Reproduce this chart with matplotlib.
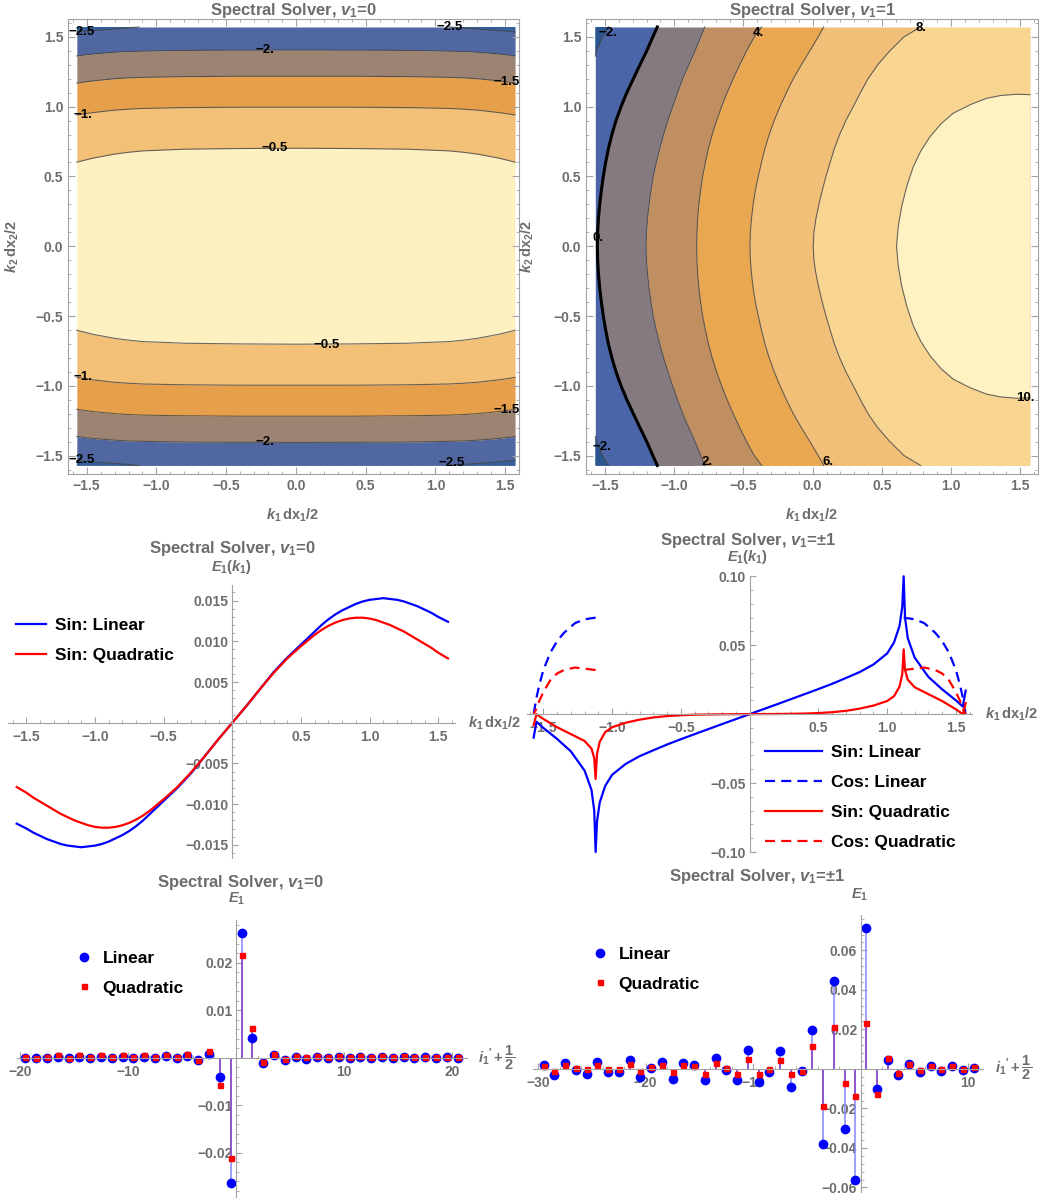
import numpy as np
import matplotlib
matplotlib.use('Agg')
import matplotlib.pyplot as plt
from matplotlib.ticker import MultipleLocator

plt.rcParams['font.family'] = ['Liberation Sans', 'DejaVu Sans']
plt.rcParams['font.weight'] = 'bold'
plt.rcParams['mathtext.fontset'] = 'custom'
plt.rcParams['mathtext.rm'] = 'Liberation Sans:bold'
plt.rcParams['mathtext.it'] = 'Liberation Sans:italic:bold'
plt.rcParams['mathtext.bf'] = 'Liberation Sans:bold'

W, H = 1045, 1200
GRAY = '#6d6d6d'
AXC = '#a3a3a3'
EDGE = 1.5708

# ---------------- top left contour (v1 = 0): level lines, k2 read at k1 (right half, symmetric)
tl_k1_half = [0.0, 0.4, 0.8, 1.1, 1.2, 1.3, 1.45, 1.52, 1.5708]
tl_m05_half = [0.702, 0.700, 0.695, 0.683, 0.673, 0.660, 0.632, 0.615, 0.602]
tl_m10_half = [0.996, 0.996, 0.993, 0.987, 0.982, 0.975, 0.958, 0.948, 0.940]
tl_m15_half = [1.218, 1.218, 1.215, 1.210, 1.206, 1.200, 1.185, 1.176, 1.168]
tl_m20_half = [1.406, 1.405, 1.403, 1.398, 1.395, 1.390, 1.378, 1.370, 1.363]
tl_m25_left_x = [-1.5708, -1.45, -1.3, -1.125]
tl_m25_left_y = [1.535, 1.545, 1.556, 1.5708]
tl_m25_right_x = [1.1, 1.3, 1.45, 1.5708]
tl_m25_right_y = [1.5708, 1.556, 1.545, 1.535]
tl_labels = [(-1.536, 1.533, '−2.5'), (1.10, 1.569, '−2.5'), (-0.22, 1.406, '−2.'),
             (1.51, 1.18, '−1.5'), (-1.527, 0.94, '−1.'), (-0.15, 0.706, '−0.5'),
             (0.22, -0.707, '−0.5'), (-1.525, -0.94, '−1.'), (1.51, -1.173, '−1.5'),
             (-0.22, -1.40, '−2.'), (-1.536, -1.53, '−2.5'), (1.116, -1.555, '−2.5')]

# ---------------- top right contour (v1 = 1): level lines, k1 read at k2 (upper half, symmetric)
tr_k2_half = [0.0, 0.1, 0.2, 0.3, 0.4, 0.5, 0.6, 0.7, 0.8, 0.9, 1.0, 1.1, 1.2, 1.3, 1.4, 1.5, 1.5708]
tr_c0_half = [-1.556, -1.554, -1.548, -1.539, -1.527, -1.513, -1.496, -1.476, -1.451, -1.421,
              -1.385, -1.343, -1.296, -1.248, -1.199, -1.155, -1.123]
tr_c2_half = [-1.204, -1.201, -1.193, -1.182, -1.168, -1.152, -1.130, -1.105, -1.077, -1.046,
              -1.012, -0.976, -0.939, -0.895, -0.850, -0.808, -0.780]
tr_c4_half = [-0.838, -0.836, -0.831, -0.822, -0.810, -0.795, -0.775, -0.753, -0.726, -0.694,
              -0.658, -0.618, -0.574, -0.527, -0.477, -0.422, -0.368]
tr_c6_half = [-0.453, -0.450, -0.442, -0.430, -0.414, -0.393, -0.370, -0.345, -0.314, -0.278,
              -0.236, -0.190, -0.140, -0.082, -0.020, 0.040, 0.080]
tr_c8_half = [0.004, 0.009, 0.024, 0.045, 0.069, 0.096, 0.126, 0.157, 0.195, 0.240,
              0.293, 0.345, 0.400, 0.470, 0.558, 0.660, 0.780]
# level 10: closed arc against the right edge, from k2 = 0 up to the edge
tr_c10_x_half = [0.606, 0.618, 0.643, 0.680, 0.727, 0.780, 0.848, 0.930, 1.016, 1.140,
                 1.257, 1.360, 1.474, 1.5708]
tr_c10_y_half = [0.0, 0.14, 0.284, 0.43, 0.570, 0.680, 0.785, 0.880, 0.953, 1.015,
                 1.060, 1.080, 1.089, 1.086]
tr_m2_x = [-1.5708, -1.561, -1.518, -1.477]
tr_m2_y = [1.363, 1.4, 1.5, 1.5708]
tr_labels = [(-1.477, 1.526, '−2.'), (-0.393, 1.526, '4.'), (0.787, 1.562, '8.'),
             (-1.549, 0.057, '0.'), (-1.525, -1.435, '−2.'), (-0.766, -1.543, '2.'),
             (0.113, -1.543, '6.'), (1.534, -1.089, '10.')]

# ---------------- middle left E1(k1), v1 = 0 (right half; curves are odd in k1)
ml_k_half = [0.0, 0.1, 0.2, 0.3, 0.4, 0.5, 0.6, 0.65, 0.7, 0.75, 0.8, 0.85, 0.9, 0.95, 1.0,
             1.05, 1.1, 1.15, 1.2, 1.25, 1.3, 1.35, 1.4, 1.45, 1.5, 1.5708]
ml_lin_half = [0.0, 0.0020, 0.0041, 0.0062, 0.0080, 0.0096, 0.0112, 0.0120, 0.0127, 0.0133,
               0.0138, 0.0142, 0.0146, 0.0149, 0.0151, 0.0152, 0.0153, 0.0152, 0.0151, 0.0149,
               0.0146, 0.0143, 0.0139, 0.0135, 0.0130, 0.0124]
ml_quad_half = [0.0, 0.0020, 0.0041, 0.0061, 0.0079, 0.0094, 0.0108, 0.0114, 0.0119, 0.0123,
                0.0126, 0.0128, 0.0129, 0.0129, 0.0128, 0.0126, 0.0123, 0.0120, 0.0116, 0.0112,
                0.0107, 0.0102, 0.0097, 0.0092, 0.0086, 0.0079]

# ---------------- middle right E1(k1), v1 = +-1 (sin parts odd, cos parts even)
mr_k_half = [0.0, 0.2, 0.4, 0.5, 0.6, 0.7, 0.8, 0.9, 1.0, 1.05, 1.09, 1.11, 1.12, 1.13, 1.15,
             1.2, 1.25, 1.3, 1.4, 1.5, 1.55, 1.5708]
mr_sin_lin_half = [0.0, 0.0072, 0.0145, 0.0182, 0.0220, 0.0262, 0.0305, 0.0360, 0.0440, 0.0520,
                   0.0640, 0.0780, 0.1000, 0.0700, 0.0550, 0.0410, 0.0340, 0.0270, 0.0180,
                   0.0100, 0.0055, 0.0170]
mr_sin_quad_half = [0.0, 0.0001, 0.0004, 0.0008, 0.0014, 0.0024, 0.0040, 0.0062, 0.0095, 0.0130,
                    0.0200, 0.0290, 0.0470, 0.0320, 0.0250, 0.0195, 0.0170, 0.0145, 0.0095,
                    0.0035, 0.0, 0.0080]
mr_kc = [1.12, 1.2, 1.27, 1.35, 1.4, 1.45, 1.5, 1.53, 1.55, 1.5708]
mr_cos_lin = [0.0700, 0.0688, 0.0660, 0.0590, 0.0530, 0.0445, 0.0320, 0.0210, 0.0120, 0.0]
mr_cos_quad = [0.0320, 0.0330, 0.0338, 0.0320, 0.0295, 0.0245, 0.0160, 0.0095, 0.0040, 0.0]

# ---------------- bottom left, E1 at i1' + 1/2, v1 = 0
bl_i = np.arange(-19.5, 20.6, 1.0)
bl_lin = [0.0000, -0.0001, 0.0000, 0.0001, -0.0001, 0.0002, -0.0001, 0.0002, -0.0001, 0.0002,
          -0.0001, 0.0002, -0.0001, 0.0003, -0.0001, 0.0004, -0.0005, 0.0009, -0.0041, -0.0263,
          0.0264, 0.0041, -0.0010, 0.0006, -0.0004, 0.0002, -0.0002, 0.0002, -0.0001, 0.0002,
          -0.0001, 0.0002, -0.0001, 0.0002, -0.0001, 0.0002, -0.0001, 0.0001, -0.0001, 0.0001,
          0.0000]
bl_quad = [0.0001, 0.0000, 0.0002, 0.0005, 0.0000, 0.0005, 0.0001, 0.0005, 0.0001, 0.0005,
           0.0001, 0.0005, 0.0001, 0.0006, 0.0002, 0.0008, -0.0004, 0.0015, -0.0058, -0.0211,
           0.0216, 0.0063, -0.0008, 0.0008, -0.0002, 0.0004, 0.0001, 0.0004, 0.0001, 0.0004,
           0.0001, 0.0004, 0.0001, 0.0004, 0.0001, 0.0004, 0.0001, 0.0002, 0.0001, 0.0002,
           0.0001]

# ---------------- bottom right, E1 at i1' + 1/2, v1 = +-1
br_i = np.arange(-29.5, 10.6, 1.0)
br_lin = [0.0019, -0.0032, 0.0030, -0.0007, -0.0024, 0.0035, -0.0017, -0.0017, 0.0044, -0.0041,
          0.0007, 0.0035, -0.0049, 0.0030, 0.0019, -0.0057, 0.0056, -0.0007, -0.0057, 0.0095,
          -0.0066, -0.0015, 0.0089, -0.0091, -0.0012, 0.0199, -0.0381, 0.0444, -0.0302, -0.0560,
          0.0711, -0.0101, 0.0047, -0.0032, 0.0024, -0.0017, 0.0015, -0.0012, 0.0014, -0.0007,
          0.0007]
br_quad = [0.0017, -0.0012, 0.0020, 0.0007, -0.0002, 0.0020, -0.0002, -0.0002, 0.0024, -0.0012,
           0.0010, 0.0020, -0.0017, 0.0020, 0.0015, -0.0024, 0.0030, 0.0007, -0.0024, 0.0049,
           -0.0025, -0.0002, 0.0044, -0.0027, -0.0012, 0.0115, -0.0189, 0.0213, -0.0071, -0.0138,
           0.0230, -0.0125, 0.0056, -0.0019, 0.0027, -0.0007, 0.0015, 0.0002, 0.0015, -0.0002,
           0.0010]


def mirror_even(xh, yh):
    # full curve from a half, for curves symmetric about 0
    x = [-v for v in xh[::-1]] + list(xh[1:])
    y = list(yh[::-1]) + list(yh[1:])
    return np.array(x), np.array(y)


def mirror_odd(xh, yh):
    x = [-v for v in xh[::-1]] + list(xh[1:])
    y = [-v for v in yh[::-1]] + list(yh[1:])
    return np.array(x), np.array(y)


fig = plt.figure(figsize=(W / 100, H / 100), dpi=100)


def px_axes(l, t, r, b):
    return fig.add_axes([l / W, 1 - b / H, (r - l) / W, (b - t) / H])


def ftext(x, y, s, **kw):
    kw.setdefault('color', GRAY)
    kw.setdefault('ha', 'center')
    kw.setdefault('va', 'center')
    fig.text(x / W, 1 - y / H, s, **kw)


def frame_style(ax):
    for s in ax.spines.values():
        s.set_color(AXC)
    for a in (ax.xaxis, ax.yaxis):
        a.set_major_locator(MultipleLocator(0.5))
        a.set_minor_locator(MultipleLocator(0.1))
    ax.tick_params(which='both', direction='in', top=True, right=True,
                   colors=AXC, labelcolor=GRAY, labelsize=10)
    ax.tick_params(which='major', length=5)
    ax.tick_params(which='minor', length=2.5)


def cross_axes(l, t, r, b, xlim, ylim):
    ax = px_axes(l, t, r, b)
    ax.set_xlim(*xlim)
    ax.set_ylim(*ylim)
    ax.patch.set_visible(False)
    for s in ('top', 'right'):
        ax.spines[s].set_visible(False)
    for s in ('left', 'bottom'):
        ax.spines[s].set_position(('data', 0))
        ax.spines[s].set_color(AXC)
    ax.tick_params(which='both', direction='in', colors=AXC, labelcolor=GRAY, labelsize=10)
    ax.tick_params(which='major', length=4)
    ax.tick_params(which='minor', length=2)
    ax.tick_params(axis='x', pad=5)
    ax.tick_params(axis='y', pad=2.5)
    return ax


def lab(vals, fmt):
    return [(fmt % v).replace('-', '−') for v in vals]


LINE = dict(color='#454545', lw=0.8, alpha=0.8)
LEG = dict(bbox_transform=fig.transFigure, frameon=False, fontsize=12.5,
           borderpad=0, borderaxespad=0, loc='upper left')

# ================= top left
ax = px_axes(68, 19, 519, 474)
ax.set_xlim(-1.634, 1.599)
ax.set_ylim(-1.632, 1.628)
frame_style(ax)
tl_k1, m05 = mirror_even(tl_k1_half, tl_m05_half)
_, m10 = mirror_even(tl_k1_half, tl_m10_half)
_, m15 = mirror_even(tl_k1_half, tl_m15_half)
_, m20 = mirror_even(tl_k1_half, tl_m20_half)
bands = [(m20, EDGE, '#5167a1'), (m15, m20, '#9d8472'), (m10, m15, '#e6a04b'),
         (m05, m10, '#f3c077')]
for lo, hi, col in bands:
    ax.fill_between(tl_k1, lo, hi, color=col, lw=0)
    ax.fill_between(tl_k1, -hi, -lo, color=col, lw=0)
ax.fill_between(tl_k1, -m05, m05, color='#fef1c1', lw=0)
for cx, cy, corner in ((tl_m25_left_x, tl_m25_left_y, -EDGE), (tl_m25_right_x, tl_m25_right_y, EDGE)):
    for sgn in (1, -1):
        ys = [sgn * v for v in cy]
        ax.fill(list(cx) + [corner], ys + [sgn * EDGE], color='#35609a', lw=0)
        ax.plot(cx, ys, **LINE)
for m in (m05, m10, m15, m20):
    ax.plot(tl_k1, m, **LINE)
    ax.plot(tl_k1, -m, **LINE)
for x, y, s in tl_labels:
    ax.text(x, y, s, ha='center', va='center', fontsize=9.5, color='k')

ftext(293, 10, 'Spectral Solver, $v_1$=0', fontsize=12)
ftext(293, 515, r'$k_1\,\mathrm{dx}_1/2$', fontsize=10.5)
ftext(12, 246, r'$k_2\,\mathrm{dx}_2/2$', fontsize=10.5, rotation=90)

# ================= top right
ax = px_axes(586, 19, 1038, 474)
ax.set_xlim(-1.638, 1.628)
ax.set_ylim(-1.632, 1.628)
frame_style(ax)
tr_k2, c0 = mirror_even(tr_k2_half, tr_c0_half)
_, c2 = mirror_even(tr_k2_half, tr_c2_half)
_, c4 = mirror_even(tr_k2_half, tr_c4_half)
_, c6 = mirror_even(tr_k2_half, tr_c6_half)
_, c8 = mirror_even(tr_k2_half, tr_c8_half)
c10_x = tr_c10_x_half[::-1] + tr_c10_x_half[1:]
c10_y = tr_c10_y_half[::-1] + [-v for v in tr_c10_y_half[1:]]
ax.fill_betweenx(tr_k2, -EDGE, c0, color='#4a66a8', lw=0)
ax.fill_betweenx(tr_k2, c0, c2, color='#857a80', lw=0)
ax.fill_betweenx(tr_k2, c2, c4, color='#bf8f62', lw=0)
ax.fill_betweenx(tr_k2, c4, c6, color='#e9a752', lw=0)
ax.fill_betweenx(tr_k2, c6, c8, color='#f2bf78', lw=0)
ax.fill_betweenx(tr_k2, c8, EDGE, color='#f9d592', lw=0)
ax.fill(c10_x, c10_y, color='#fef1c2', lw=0)
ax.plot(c10_x, c10_y, **LINE)
for sgn in (1, -1):
    ys = [sgn * v for v in tr_m2_y]
    ax.fill(tr_m2_x + [-EDGE], ys + [sgn * EDGE], color='#2b568f', lw=0)
    ax.plot(tr_m2_x, ys, **LINE)
for c in (c2, c4, c6, c8):
    ax.plot(c, tr_k2, **LINE)
ax.plot(c0, tr_k2, color='k', lw=2.2)
for x, y, s in tr_labels:
    ax.text(x, y, s, ha='center', va='center', fontsize=9.5, color='k')

ftext(812, 10, 'Spectral Solver, $v_1$=1', fontsize=12)
ftext(812, 515, r'$k_1\,\mathrm{dx}_1/2$', fontsize=10.5)
ftext(527, 246, r'$k_2\,\mathrm{dx}_2/2$', fontsize=10.5, rotation=90)

# ================= middle left
ax = cross_axes(8, 585, 455, 858.3, (-1.634, 1.622), (-0.01666, 0.01692))
xt = [-1.5, -1.0, -0.5, 0.5, 1.0, 1.5]
yt = [-0.015, -0.010, -0.005, 0.005, 0.010, 0.015]
ax.set_xticks(xt, lab(xt, '%.1f'))
ax.set_yticks(yt, lab(yt, '%.3f'))
ax.xaxis.set_minor_locator(MultipleLocator(0.1))
ax.yaxis.set_minor_locator(MultipleLocator(0.001))
k, v = mirror_odd(ml_k_half, ml_lin_half)
ax.plot(k, v, color='#0000ff', lw=1.6, clip_on=False, label='Sin: Linear')
k, v = mirror_odd(ml_k_half, ml_quad_half)
ax.plot(k, v, color='#ff0000', lw=1.6, clip_on=False, label='Sin: Quadratic')
ax.legend(bbox_to_anchor=(16 / W, 1 - 618 / H), handlelength=1.7, handletextpad=0.55,
          labelspacing=0.86, **LEG)
ftext(232, 548, 'Spectral Solver, $v_1$=0', fontsize=12)
ftext(232, 567, r'$E_1(k_1)$', fontsize=10.5)
ftext(468, 723, r'$k_1\,\mathrm{dx}_1/2$', fontsize=10.5, ha='left')

# ================= middle right
ax = cross_axes(527, 576, 972, 852, (-1.619, 1.617), (-0.0998, 0.1002))
yt = [-0.10, -0.05, 0.05, 0.10]
ax.set_xticks(xt, lab(xt, '%.1f'))
ax.set_yticks(yt, lab(yt, '%.2f'))
ax.xaxis.set_minor_locator(MultipleLocator(0.1))
ax.yaxis.set_minor_locator(MultipleLocator(0.01))
DASH = (0, (4.5, 2.8))
k, v = mirror_odd(mr_k_half, mr_sin_lin_half)
ax.plot(k, v, color='#0000ff', lw=1.6, clip_on=False, label='Sin: Linear')
ax.plot(mr_kc, mr_cos_lin, color='#0000ff', lw=1.6, ls=DASH, clip_on=False, label='Cos: Linear')
ax.plot([-v for v in mr_kc], mr_cos_lin, color='#0000ff', lw=1.6, ls=DASH, clip_on=False)
k, v = mirror_odd(mr_k_half, mr_sin_quad_half)
ax.plot(k, v, color='#ff0000', lw=1.6, clip_on=False, label='Sin: Quadratic')
ax.plot(mr_kc, mr_cos_quad, color='#ff0000', lw=1.6, ls=DASH, clip_on=False,
        label='Cos: Quadratic')
ax.plot([-v for v in mr_kc], mr_cos_quad, color='#ff0000', lw=1.6, ls=DASH, clip_on=False)
ax.legend(bbox_to_anchor=(765 / W, 1 - 745 / H), handlelength=3.3, handletextpad=0.5,
          labelspacing=0.86, **LEG)
ftext(748, 540, r'Spectral Solver, $v_1$=±1', fontsize=12)
ftext(748, 557, r'$E_1(k_1)$', fontsize=10.5)
ftext(985, 714, r'$k_1\,\mathrm{dx}_1/2$', fontsize=10.5, ha='left')


# ================= bottom panels
def stem_panel(ax, idx, lin, quad):
    ax.vlines(idx, 0, lin, color='#8585ff', lw=1.1)
    ax.vlines(idx, 0, quad, color='#8e44c0', lw=1.1)
    ax.plot(idx, lin, 'o', color='#0000ff', ms=6, ls='none', clip_on=False, label='Linear')
    ax.plot(idx, quad, 's', color='#ff0000', ms=3.6, ls='none', clip_on=False, label='Quadratic')


ILAB = r'$i_1{}^{\prime}+\dfrac{1}{2}$'

ax = cross_axes(17, 920, 467, 1197, (-20.27, 21.36), (-0.02933, 0.02905))
xt = [-20, -10, 10, 20]
yt = [-0.02, -0.01, 0.01, 0.02]
ax.set_xticks(xt, lab(xt, '%d'))
ax.set_yticks(yt, lab(yt, '%.2f'))
ax.xaxis.set_minor_locator(MultipleLocator(2))
ax.yaxis.set_minor_locator(MultipleLocator(0.002))
stem_panel(ax, bl_i, bl_lin, bl_quad)
ax.legend(bbox_to_anchor=(74 / W, 1 - 951 / H), handlelength=1.2, handletextpad=0.45,
          labelspacing=0.82, **LEG)
ftext(240, 882, 'Spectral Solver, $v_1$=0', fontsize=12)
ftext(237, 899, r'$E_1$', fontsize=10.5)
ftext(478, 1058, ILAB, fontsize=10.5, ha='left')

ax = cross_axes(533, 915, 983, 1192, (-30.48, 11.38), (-0.0623, 0.0779))
xt = [-30, -20, -10, 10]
yt = [-0.06, -0.04, -0.02, 0.02, 0.04, 0.06]
ax.set_xticks(xt, lab(xt, '%d'))
ax.set_yticks(yt, lab(yt, '%.2f'))
ax.xaxis.set_minor_locator(MultipleLocator(2))
ax.yaxis.set_minor_locator(MultipleLocator(0.004))
stem_panel(ax, br_i, br_lin, br_quad)
ax.legend(bbox_to_anchor=(590 / W, 1 - 947 / H), handlelength=1.2, handletextpad=0.45,
          labelspacing=0.82, **LEG)
ftext(757, 877, r'Spectral Solver, $v_1$=±1', fontsize=12)
ftext(860, 895, r'$E_1$', fontsize=10.5)
ftext(995, 1068, ILAB, fontsize=10.5, ha='left')

fig.savefig('out.png', dpi=100, facecolor='white')
